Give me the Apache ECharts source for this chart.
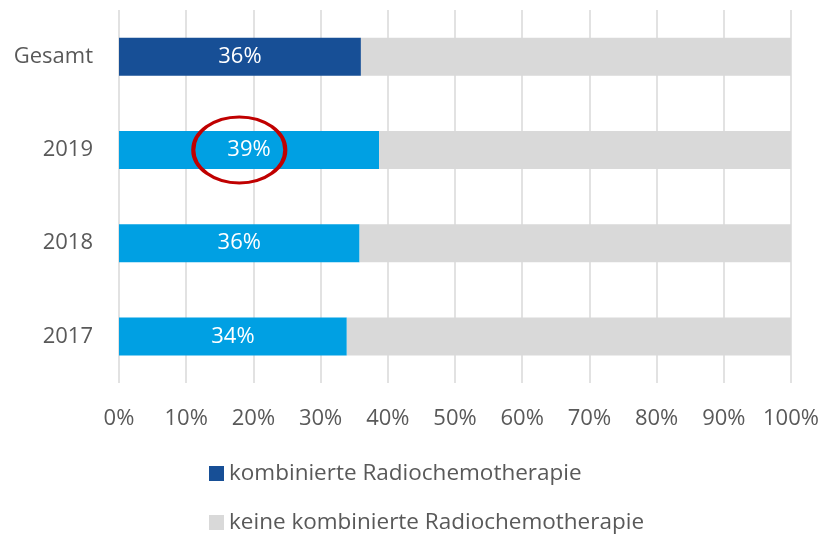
<!DOCTYPE html>
<html><head><meta charset="utf-8">
<script src="https://cdn.jsdelivr.net/npm/echarts@6/dist/echarts.min.js"></script>
<style>html,body{margin:0;padding:0;background:#fff}#c{width:823px;height:534px}</style>
</head><body><div id="c"></div>
<script>
const categories = ['2017', '2018', '2019', 'Gesamt'];
const kombiniert = [33.9, 35.8, 38.7, 36.0];
const keine = [66.1, 64.2, 61.3, 64.0];
const xTicks = [0, 10, 20, 30, 40, 50, 60, 70, 80, 90, 100];
const seriesNames = ['kombinierte Radiochemotherapie', 'keine kombinierte Radiochemotherapie'];

const FONT = '"Open Sans", "Noto Sans", sans-serif';
const chart = echarts.init(document.getElementById('c'));
const barColors = ['#00a0e3', '#00a0e3', '#00a0e3', '#174f96'];

chart.setOption({
  animation: false,
  textStyle: { fontFamily: FONT },
  grid: { left: 119, right: 32, top: 10, bottom: 151, containLabel: false },
  xAxis: {
    type: 'value', min: 0, max: 100, interval: 10,
    axisLine: { show: false }, axisTick: { show: false },
    splitLine: { show: true, lineStyle: { color: '#d9d9d9', width: 1.5 } },
    axisLabel: { formatter: v => xTicks.includes(v) ? v + '%' : '', color: '#595959', fontSize: 22, margin: 25, fontFamily: FONT }
  },
  yAxis: {
    type: 'category', data: categories,
    axisLine: { show: false }, axisTick: { show: false },
    axisLabel: { color: '#595959', fontSize: 22, margin: 26, fontFamily: FONT }
  },
  legend: {
    orient: 'vertical', left: 209, top: 462, padding: 0, height: 72, itemWidth: 15, itemHeight: 15, itemGap: 26,
    icon: 'rect',
    textStyle: { color: '#595959', fontSize: 22.5, fontFamily: FONT, lineHeight: 22 },
    data: [
      { name: seriesNames[0], itemStyle: { color: '#174f96' } },
      { name: seriesNames[1], itemStyle: { color: '#d9d9d9' } }
    ]
  },
  series: [
    {
      name: seriesNames[0], type: 'bar', stack: 's', barWidth: 38,
      data: kombiniert.map((v, i) => ({ value: v, itemStyle: { color: barColors[i] } })),
      itemStyle: { color: '#174f96' },
      label: { show: true, position: 'inside', color: '#fff', fontSize: 22, fontFamily: FONT,
        formatter: p => Math.round(p.value) + '%' }
    },
    {
      name: seriesNames[1], type: 'bar', stack: 's', barWidth: 38,
      data: keine, itemStyle: { color: '#d9d9d9' }
    }
  ]
});

const c = chart.convertToPixel({ gridIndex: 0 }, [17.9, '2019']);
chart.setOption({
  graphic: [{
    type: 'circle', x: c[0], y: c[1], scaleX: 46 / 33, scaleY: 1,
    shape: { cx: 0, cy: 0, r: 33 },
    style: { fill: 'none', stroke: '#c00000', lineWidth: 3, strokeNoScale: true },
    z: 100
  }]
});
</script></body></html>
